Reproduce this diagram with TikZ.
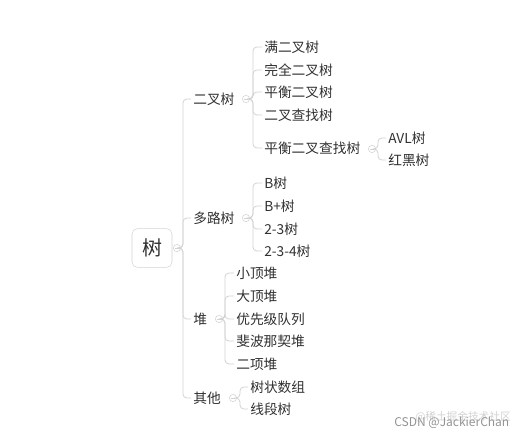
\documentclass[tikz,border=0pt]{standalone}
\usepackage{fontspec}
\setmainfont{Noto Sans CJK SC}
\definecolor{linegray}{HTML}{D2D2D2}
\definecolor{txt}{HTML}{303030}
\tikzset{
  leaf/.style={anchor=west,inner sep=1.5pt,text=txt,font=\fontsize{10.3}{12}\selectfont},
  fold/.style={circle,draw=linegray,fill=white,inner sep=0pt,minimum size=5.5pt,
    path picture={\draw[linegray] ([xshift=-1.5pt]path picture bounding box.center)
      -- ([xshift=1.5pt]path picture bounding box.center);}},
  link/.style={draw=linegray,line width=0.6pt,rounded corners=3pt}
}
\begin{document}
\begin{tikzpicture}[x=0.75pt,y=-0.75pt]
  \useasboundingbox (0,0) rectangle (527,437);
  % root
  \node[draw=linegray,rounded corners=4pt,minimum width=30pt,minimum height=29pt,
    text=txt,font=\fontsize{15}{18}\selectfont] (root) at (152,248) {树};
  \node[fold] (f0) at (177,248) {};
  \path (191,99) node[leaf] (bin) {二叉树} (191,218) node[leaf] (mway) {多路树}
    (191,319) node[leaf] (heap) {堆} (191,398) node[leaf] (other) {其他};
  \foreach \n in {bin,mway,heap,other}
    \draw[link] (f0.east) -- ++(2,0) |- (\n.west);
  \path (246,99) node[fold] (fb) {} (246,218) node[fold] (fm) {}
    (219,319) node[fold] (fh) {} (233,398) node[fold] (fo) {};
  % binary trees
  \foreach \t/\y [count=\i] in {满二叉树/47,完全二叉树/70,平衡二叉树/92,二叉查找树/115,平衡二叉查找树/148} {
    \node[leaf] (b\i) at (262,\y) {\t};
    \draw[link] (fb.east) -- ++(3,0) |- (b\i.west);
  }
  \node[fold] (fb5) at (372,149) {};
  \foreach \t/\y [count=\i] in {AVL树/138,红黑树/160} {
    \node[leaf] (s\i) at (386,\y) {\t};
    \draw[link] (fb5.east) -- ++(2,0) |- (s\i.west);
  }
  % multiway trees
  \foreach \t/\y [count=\i] in {B树/183,B+树/206,2-3树/229,2-3-4树/251} {
    \node[leaf] (m\i) at (262,\y) {\t};
    \draw[link] (fm.east) -- ++(3,0) |- (m\i.west);
  }
  % heaps
  \foreach \t/\y [count=\i] in {小顶堆/273,大顶堆/296,优先级队列/319,斐波那契堆/341,二项堆/364} {
    \node[leaf] (h\i) at (234,\y) {\t};
    \draw[link] (fh.east) -- ++(2,0) |- (h\i.west);
  }
  % others
  \foreach \t/\y [count=\i] in {树状数组/387,线段树/409} {
    \node[leaf] (o\i) at (248,\y) {\t};
    \draw[link] (fo.east) -- ++(3,0) |- (o\i.west);
  }
  % watermark
  \node[text=gray!35,font=\fontsize{8}{9}\selectfont] (wm2) at (463,417) {@稀土掘金技术社区};
  \node[anchor=east,text=gray!85,font=\fontsize{9}{10}\selectfont] (wm1) at (514,423) {CSDN @JackierChan};
\end{tikzpicture}
\end{document}
